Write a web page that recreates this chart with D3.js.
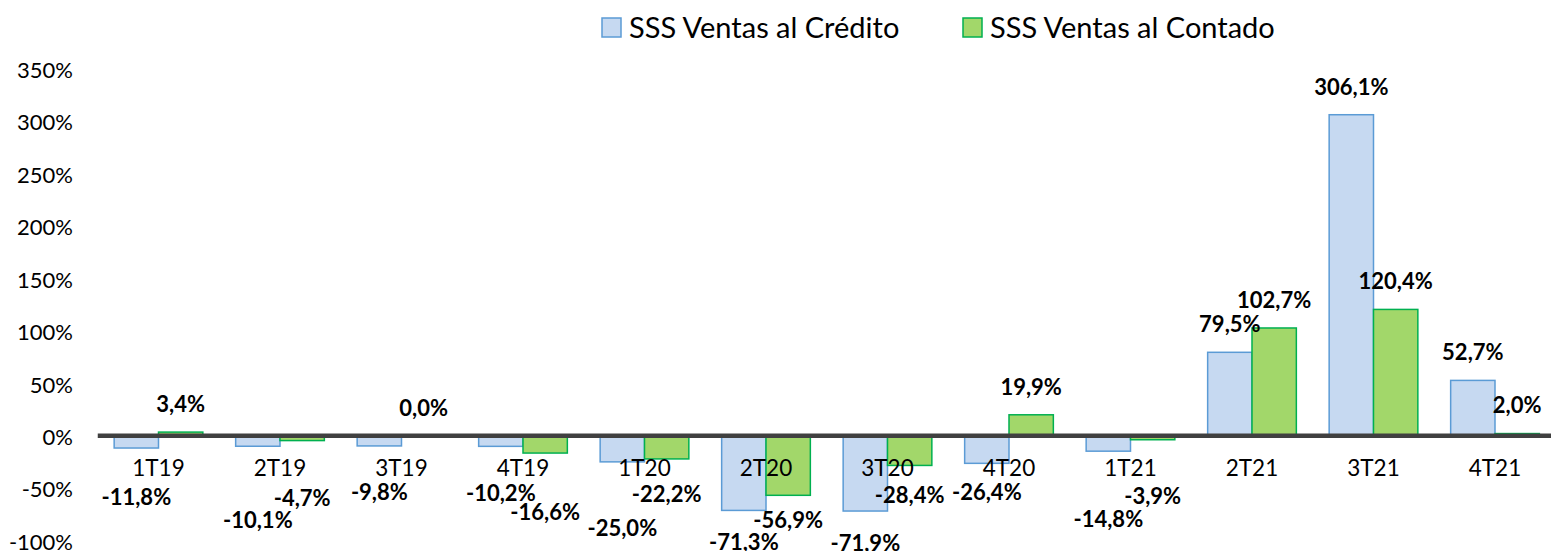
<!DOCTYPE html>
<html>
<head>
<meta charset="utf-8">
<script src="https://cdn.jsdelivr.net/npm/d3@7"></script>
<style>
  body { margin: 0; background: #fff; }
  svg { display: block; font-family: Lato, "Open Sans", sans-serif; }
</style>
</head>
<body>
<svg width="1551" height="551"></svg>
<script>
const categories = ["1T19", "2T19", "3T19", "4T19", "1T20", "2T20", "3T20", "4T20", "1T21", "2T21", "3T21", "4T21"];
const seriesNames = ["SSS Ventas al Crédito", "SSS Ventas al Contado"];
const credito = [-11.8, -10.1, -9.8, -10.2, -25.0, -71.3, -71.9, -26.4, -14.8, 79.5, 306.1, 52.7];
const contado = [3.4, -4.7, 0.0, -16.6, -22.2, -56.9, -28.4, 19.9, -3.9, 102.7, 120.4, 2.0];
const yTicks = [-100, -50, 0, 50, 100, 150, 200, 250, 300, 350];

// manual nudges (px) for the negative value labels, as placed in the original
const nudgeCredito = [21, 46, 18, 19, 38, 4, 4, 1, 40, 0, 0, 0];
const nudgeContado = [0, 29, 0, 31, 7, -3, 2, 0, 28, 0, 0, 0];

const svg = d3.select("svg");

const x0 = d3.scaleBand()
    .domain(categories)
    .range([97.75, 1555.75])
    .paddingInner(0.27)
    .paddingOuter(0.135);

const x1 = d3.scaleBand()
    .domain(seriesNames)
    .range([0, x0.bandwidth()]);

const y = d3.scaleLinear()
    .domain([-100, 350])
    .range([540.5, 68.7]);

const fills = { "SSS Ventas al Crédito": "#c6d9f1", "SSS Ventas al Contado": "#a2d76a" };
const strokes = { "SSS Ventas al Crédito": "#5b9bd5", "SSS Ventas al Contado": "#00b050" };

// y axis labels only
const yAxis = svg.append("g")
    .attr("transform", "translate(73,0)")
    .call(d3.axisLeft(y).tickValues(yTicks).tickSize(0).tickPadding(0).tickFormat(d => d + "%"));
yAxis.select(".domain").remove();
yAxis.selectAll("text")
    .attr("font-size", 22)
    .attr("font-family", "Lato")
    .attr("fill", "#000")
    .attr("dy", "0.4em");

const rows = categories.map((c, i) => ({
    cat: c,
    vals: [
        { key: seriesNames[0], v: credito[i], nudge: nudgeCredito[i] },
        { key: seriesNames[1], v: contado[i], nudge: nudgeContado[i] }
    ]
}));

const groups = svg.append("g").selectAll("g")
    .data(rows)
    .enter().append("g")
    .attr("transform", d => `translate(${x0(d.cat)},0)`);

groups.selectAll("rect")
    .data(d => d.vals)
    .enter().append("rect")
    .attr("x", d => x1(d.key))
    .attr("width", x1.bandwidth())
    .attr("y", d => y(Math.max(0, d.v)))
    .attr("height", d => Math.abs(y(d.v) - y(0)))
    .attr("fill", d => fills[d.key])
    .attr("stroke", d => strokes[d.key])
    .attr("stroke-width", 1.5);

// zero line
svg.append("line")
    .attr("x1", x0.range()[0])
    .attr("x2", 1551)
    .attr("y1", y(0))
    .attr("y2", y(0))
    .attr("stroke", "#404040")
    .attr("stroke-width", 4.5);

// category labels
svg.append("g").selectAll("text")
    .data(categories)
    .enter().append("text")
    .attr("x", d => x0(d) + x0.bandwidth() / 2)
    .attr("y", 468)
    .attr("dy", "0.36em")
    .attr("text-anchor", "middle")
    .attr("font-size", 22.5)
    .attr("fill", "#000")
    .text(d => d);

// value labels
const fmt = v => v.toFixed(1).replace(".", ",") + "%";
groups.selectAll("text.val")
    .data(d => d.vals)
    .enter().append("text")
    .attr("class", "val")
    .attr("x", d => x1(d.key) + x1.bandwidth() / 2)
    .attr("y", d => d.v >= 0 ? y(d.v) - 28 : y(d.v) + 28 + d.nudge)
    .attr("dy", "0.36em")
    .attr("text-anchor", "middle")
    .attr("font-size", 22)
    .attr("font-weight", "bold")
    .attr("fill", "#000")
    .text(d => fmt(d.v));

// legend
const legend = svg.append("g").selectAll("g")
    .data(seriesNames)
    .enter().append("g")
    .attr("transform", (d, i) => `translate(${i === 0 ? 602 : 963},18)`);
legend.append("rect")
    .attr("width", 19)
    .attr("height", 19)
    .attr("fill", d => fills[d])
    .attr("stroke", d => strokes[d])
    .attr("stroke-width", 1.5);
legend.append("text")
    .attr("x", 27)
    .attr("y", 9.5)
    .attr("dy", "0.36em")
    .attr("font-size", 29)
    .attr("fill", "#000")
    .text(d => d);
</script>
</body>
</html>
